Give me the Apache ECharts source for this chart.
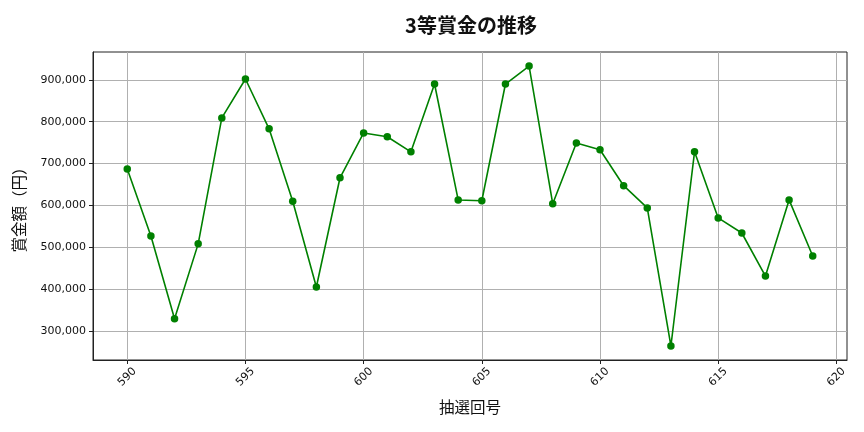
<!DOCTYPE html>
<html>
<head>
<meta charset="utf-8">
<script src="https://cdn.jsdelivr.net/npm/echarts@6/dist/echarts.min.js"></script>
<style>
  html, body { margin: 0; padding: 0; background: #fff; }
  #chart { width: 864px; height: 432px; }
</style>
</head>
<body>
<div id="chart"></div>
<script>
    // 抽選回号
    var drawNumbers = [590, 591, 592, 593, 594, 595, 596, 597, 598, 599,
                       600, 601, 602, 603, 604, 605, 606, 607, 608, 609,
                       610, 611, 612, 613, 614, 615, 616, 617, 618, 619];
    // 3等賞金（円）
    var prizeValues = [687000, 527000, 329000, 508000, 809000, 902000, 783000, 610000, 405000, 666000,
                       773000, 764000, 728000, 890000, 613000, 611000, 890000, 933000, 604000, 749000,
                       733000, 647000, 594000, 264000, 728000, 570000, 534000, 431000, 613000, 479000];

    // tick labels
    var xTicks = [590, 595, 600, 605, 610, 615, 620];
    var yTicks = [300000, 400000, 500000, 600000, 700000, 800000, 900000];

    var titleText = '3等賞金の推移';
    var xName = '抽選回号';
    var yName = '賞金額（円）';

    var jpFont = '"Noto Sans CJK JP", "Noto Sans", sans-serif';
    var tickFont = '"DejaVu Sans", sans-serif';

    var chart = echarts.init(document.getElementById('chart'), null, { renderer: 'canvas' });

    var seriesData = drawNumbers.map(function (n, i) { return [n, prizeValues[i]]; });

    function withCommas(v) {
        return v.toString().replace(/\B(?=(\d{3})+(?!\d))/g, ',');
    }

    var option = {
        backgroundColor: '#fff',
        animation: false,
        title: {
            text: titleText,
            left: 466,
            top: 10,
            textAlign: 'center',
            textStyle: { fontFamily: jpFont, fontSize: 20, fontWeight: 'bold', color: '#111' }
        },
        grid: {
            left: 93, right: 17, top: 52, bottom: 72,
            show: true, borderColor: '#222', borderWidth: 1, backgroundColor: 'transparent'
        },
        xAxis: {
            type: 'value',
            min: 588.55,
            max: 620.45,
            name: xName,
            nameLocation: 'middle',
            nameGap: 39,
            nameTextStyle: { fontFamily: jpFont, fontSize: 15.5, color: '#111' },
            axisLine: { show: true, onZero: false, lineStyle: { color: '#222', width: 1 } },
            axisTick: { show: true, length: 4, customValues: xTicks, lineStyle: { color: '#222' } },
            axisLabel: {
                customValues: xTicks,
                rotate: 45,
                align: 'center',
                verticalAlign: 'middle',
                margin: 17,
                fontFamily: tickFont,
                fontSize: 11,
                color: '#111'
            },
            splitLine: { show: true, lineStyle: { color: '#b0b0b0', width: 1 } }
        },
        yAxis: {
            type: 'value',
            min: 230500,
            max: 966500,
            name: yName,
            nameLocation: 'middle',
            nameGap: 66,
            nameTextStyle: { fontFamily: jpFont, fontSize: 15.5, color: '#111' },
            axisLine: { show: true, onZero: false, lineStyle: { color: '#222', width: 1 } },
            axisTick: { show: true, length: 4, customValues: yTicks, lineStyle: { color: '#222' } },
            axisLabel: {
                customValues: yTicks,
                margin: 7,
                fontFamily: tickFont,
                fontSize: 11,
                color: '#111',
                formatter: withCommas
            },
            splitLine: { show: true, lineStyle: { color: '#b0b0b0', width: 1 } }
        },
        series: [{
            type: 'line',
            data: seriesData,
            symbol: 'circle',
            symbolSize: 7.5,
            itemStyle: { color: '#008000' },
            lineStyle: { color: '#008000', width: 1.6 }
        }]
    };

    chart.setOption(option);
</script>
</body>
</html>
